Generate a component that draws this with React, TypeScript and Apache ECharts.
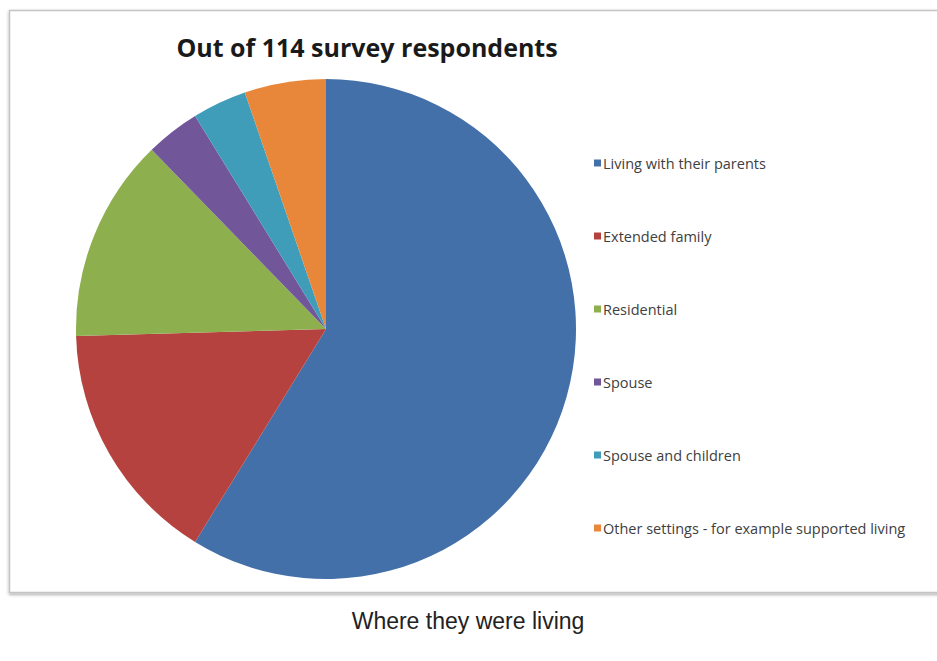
import React, { useEffect, useRef } from "react";
import * as echarts from "echarts";

const categories = [
  "Living with their parents",
  "Extended family",
  "Residential",
  "Spouse",
  "Spouse and children",
  "Other settings - for example supported living",
];
const counts = [67, 18, 15, 4, 4, 6];
const colors = ["#4470A9", "#B5423E", "#8DAF4E", "#72569A", "#3F9DB9", "#E8873A"];
const titleText = "Out of 114 survey respondents";
const captionText = "Where they were living";

export default function App() {
  const ref = useRef<HTMLDivElement>(null);
  useEffect(() => {
    if (!ref.current) return;
    const chart = echarts.init(ref.current, null, { renderer: "svg" });
    chart.setOption({
      animation: false,
      backgroundColor: "#ffffff",
      graphic: [
        {
          type: "rect",
          z: -10,
          shape: { x: 9.5, y: 10.5, width: 940, height: 582 },
          style: {
            fill: "#ffffff",
            stroke: "#c4c4c4",
            lineWidth: 1.5,
            shadowBlur: 3,
            shadowColor: "rgba(0,0,0,0.35)",
            shadowOffsetY: 1.5,
          },
        },
        {
          type: "text",
          x: 367,
          y: 47,
          style: {
            text: titleText,
            font: "bold 25px 'Open Sans'",
            fill: "#1a1a1a",
            textAlign: "center",
            textVerticalAlign: "middle",
          },
        },
        {
          type: "text",
          x: 468,
          y: 621,
          style: {
            text: captionText,
            font: "23px 'Liberation Sans', Arial",
            fill: "#222222",
            textAlign: "center",
            textVerticalAlign: "middle",
          },
        },
      ],
      legend: {
        orient: "vertical",
        left: 589,
        top: 150,
        icon: "rect",
        itemWidth: 7,
        itemHeight: 7,
        itemGap: 57,
        selectedMode: false,
        textStyle: {
          fontFamily: "Open Sans",
          fontSize: 14.5,
          color: "#404040",
          lineHeight: 16,
          padding: [0, 0, 0, -3],
        },
        data: categories,
      },
      series: [
        {
          type: "pie",
          center: [326, 329],
          radius: [0, 250],
          startAngle: 90,
          clockwise: true,
          label: { show: false },
          labelLine: { show: false },
          emphasis: { disabled: true },
          itemStyle: { borderWidth: 0 },
          data: categories.map((name, i) => ({
            name,
            value: counts[i],
            itemStyle: { color: colors[i] },
          })),
        },
      ],
    });
    return () => chart.dispose();
  }, []);
  return (
    <div
      ref={ref}
      style={{ position: "absolute", left: 0, top: 0, width: 937, height: 661 }}
    />
  );
}
